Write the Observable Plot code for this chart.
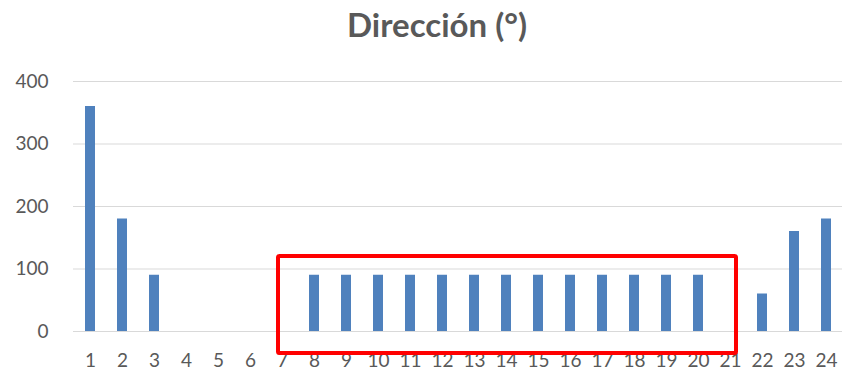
<!DOCTYPE html>
<html>
<head>
<meta charset="utf-8">
<script src="https://cdn.jsdelivr.net/npm/d3@7"></script>
<script src="https://cdn.jsdelivr.net/npm/@observablehq/plot@0.6"></script>
<style>
  html, body { margin: 0; padding: 0; background: #fff; }
  #title {
    height: 62px; line-height: 48px; text-align: center;
    padding-left: 32px; box-sizing: border-box;
    font-family: Lato, "Open Sans", sans-serif; font-weight: 700;
    font-size: 33px; color: #595959;
  }
  #chart svg { display: block; }
</style>
</head>
<body>
<div id="title">Dirección (°)</div>
<div id="chart"></div>
<script>
// Hours of the day and the wind direction recorded for each (degrees)
const hours = ["1","2","3","4","5","6","7","8","9","10","11","12","13","14","15","16","17","18","19","20","21","22","23","24"];
const direction = [360,180,90,0,0,0,0,90,90,90,90,90,90,90,90,90,90,90,90,90,0,60,160,180];
const yTicks = [0,100,200,300,400];

// Highlighted span of hours, and its vertical extent in degrees
const highlightFrom = "7";
const highlightTo = "21";
const highlightTop = 120;
const highlightBottom = -35;

const rows = hours.map((h, i) => ({hour: h, value: direction[i]}));

// Outline drawn through the chart's own x and y scales
function highlight(index, scales) {
  const x = scales.x, y = scales.y;
  const bw = x.bandwidth();
  const x1 = x(highlightFrom) + bw / 2 - 4;
  const x2 = x(highlightTo) + bw / 2 + 6;
  const y1 = y(highlightTop);
  const y2 = y(highlightBottom);
  const r = d3.create("svg:rect")
    .attr("x", x1).attr("y", y1)
    .attr("width", x2 - x1).attr("height", y2 - y1)
    .attr("fill", "none").attr("stroke", "#ff0000")
    .attr("stroke-width", 4).attr("rx", 1.5);
  return r.node();
}

const chart = Plot.plot({
  width: 842,
  height: 309,
  marginLeft: 73,
  marginRight: 0,
  marginTop: 19,
  marginBottom: 40,
  style: {fontFamily: "Lato, 'Open Sans', sans-serif", fontSize: "19px", color: "#595959", background: "#fff", overflow: "visible"},
  x: {domain: hours, paddingInner: 0.69, paddingOuter: 0.345, label: null},
  y: {domain: [0, 400], label: null},
  marks: [
    Plot.gridY(yTicks, {stroke: "#d9d9d9", strokeOpacity: 1, strokeWidth: 1}),
    Plot.barY(rows, {x: "hour", y: "value", fill: "#4f81bd"}),
    Plot.axisY(yTicks, {tickSize: 0, tickPadding: 25, fontSize: 19, fill: "#595959", label: null}),
    Plot.axisX({tickSize: 0, tickPadding: 22, fontSize: 19, fill: "#595959", label: null}),
    highlight
  ]
});
document.getElementById("chart").appendChild(chart);
</script>
</body>
</html>
